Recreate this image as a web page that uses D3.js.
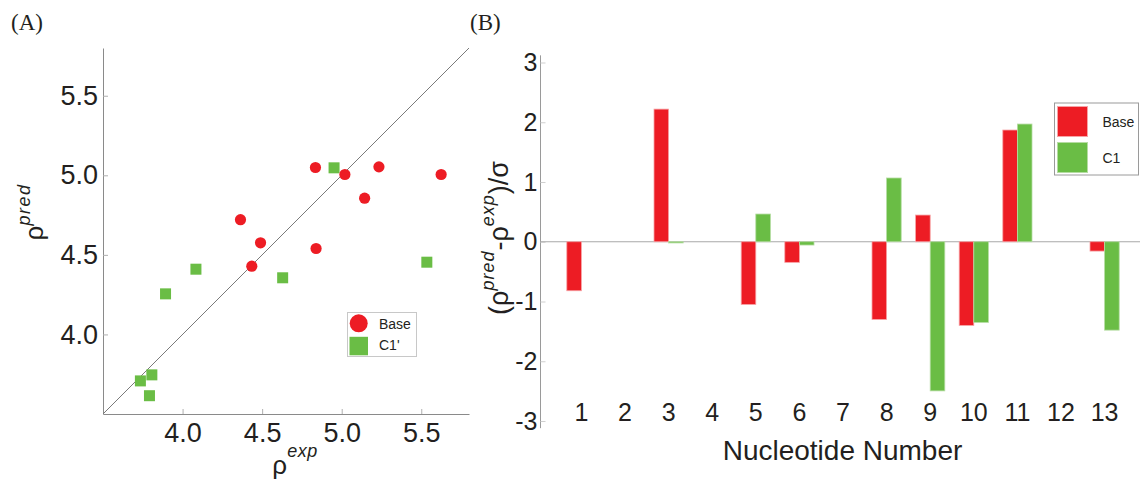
<!DOCTYPE html>
<html><head><meta charset="utf-8">
<script src="https://cdn.jsdelivr.net/npm/d3@7"></script>
<style>
body{margin:0;background:#fff}
svg{display:block}
text{font-family:"Liberation Sans",Arial,Helvetica,sans-serif;fill:#231f20}
</style>
</head><body>
<svg id="fig" width="1142" height="481"></svg>
<script>
// (A) predicted vs experimental values
const baseExp  = [4.835, 5.020, 5.234, 5.625, 5.144, 4.364, 4.490, 4.435, 4.839];
const basePred = [5.049, 5.005, 5.053, 5.005, 4.856, 4.721, 4.576, 4.429, 4.540];
const c1Exp    = [4.952, 5.535, 4.084, 4.629, 3.893, 3.735, 3.807, 3.792];
const c1Pred   = [5.047, 4.454, 4.410, 4.356, 4.255, 3.708, 3.746, 3.615];
const scatterTicks = [4.0, 4.5, 5.0, 5.5];

// (B) normalised deviation per nucleotide (null = no bar)
const nucleotides = [1, 2, 3, 4, 5, 6, 7, 8, 9, 10, 11, 12, 13];
const baseDev = [-0.82, null, 2.22, null, -1.05, -0.345, null, -1.30, 0.447, -1.40, 1.87, null, -0.156];
const c1Dev   = [null, null, -0.02, null, 0.464, -0.055, null, 1.067, -2.496, -1.35, 1.97, null, -1.479];
const devTicks = [-3, -2, -1, 0, 1, 2, 3];

const RED = "#ed1c24", GREEN = "#6abd45";
const RED_EDGE = "#f7a3a6", GREEN_EDGE = "#b5dca2";
const INK = "#231f20";

const svg = d3.select("#fig");

// ---------- Panel A ----------
const xA = d3.scaleLinear().domain([3.5, 5.8]).range([103, 469]);
const yA = d3.scaleLinear().domain([3.5, 5.8]).range([414, 48]);

svg.append("text").attr("x", 11).attr("y", 30)
  .style("font-family", "'Liberation Serif','Times New Roman',serif")
  .style("font-size", "23px").text("(A)");

const axA_y = svg.append("g").attr("transform", `translate(${xA.range()[0]},0)`)
  .call(d3.axisLeft(yA).tickValues(scatterTicks).tickFormat(d3.format(".1f"))
    .tickSizeInner(-5).tickSizeOuter(0).tickPadding(5));
const axA_x = svg.append("g").attr("transform", `translate(0,${yA.range()[0]})`)
  .call(d3.axisBottom(xA).tickValues(scatterTicks).tickFormat(d3.format(".1f"))
    .tickSizeInner(-5).tickSizeOuter(0).tickPadding(9));
[axA_y, axA_x].forEach(g => {
  g.select(".domain").attr("stroke", "#8a8a8a");
  g.selectAll(".tick line").attr("stroke", "#b0b0b0");
  g.selectAll(".tick text").style("font-size", "27px").attr("fill", INK)
    .style("font-family", "'Liberation Sans',Arial,sans-serif");
});

// identity line
svg.append("line")
  .attr("x1", xA(3.5)).attr("y1", yA(3.5)).attr("x2", xA(5.8)).attr("y2", yA(5.8))
  .attr("stroke", "#7a7a7a").attr("stroke-width", 1);

// C1' squares
const sq = 11;
svg.append("g").selectAll("rect").data(c1Exp.map((e, i) => [e, c1Pred[i]])).join("rect")
  .attr("x", d => xA(d[0]) - sq / 2).attr("y", d => yA(d[1]) - sq / 2)
  .attr("width", sq).attr("height", sq).attr("fill", GREEN);

// base circles
svg.append("g").selectAll("circle").data(baseExp.map((e, i) => [e, basePred[i]])).join("circle")
  .attr("cx", d => xA(d[0])).attr("cy", d => yA(d[1])).attr("r", 5.6).attr("fill", RED);

// axis titles
const tA = svg.append("text").attr("x", 295).attr("y", 474).attr("text-anchor", "middle");
tA.append("tspan").style("font-size", "26px").text("ρ");
tA.append("tspan").attr("dy", -17).style("font-size", "18px").style("font-style", "italic")
  .style("letter-spacing", "0.5px").text("exp");

const tAy = svg.append("text").attr("transform", "translate(43,212) rotate(-90)").attr("text-anchor", "middle");
tAy.append("tspan").style("font-size", "26px").text("ρ");
tAy.append("tspan").attr("dy", -13).style("font-size", "18px").style("font-style", "italic")
  .style("letter-spacing", "1.5px").text("pred");

// legend A
const lgA = svg.append("g");
lgA.append("rect").attr("x", 347.5).attr("y", 312.5).attr("width", 69).attr("height", 44)
  .attr("fill", "#fff").attr("stroke", "#c8c8c8");
lgA.append("circle").attr("cx", 358.7).attr("cy", 323.3).attr("r", 9).attr("fill", RED);
lgA.append("rect").attr("x", 349.5).attr("y", 336.8).attr("width", 18.5).attr("height", 18.5).attr("fill", GREEN);
lgA.append("text").attr("x", 379).attr("y", 328.5).style("font-size", "14px").text("Base");
lgA.append("text").attr("x", 379).attr("y", 350).style("font-size", "14px").text("C1'");

// ---------- Panel B ----------
const xB = d3.scaleBand().domain(nucleotides).range([559.6, 1126.4]).padding(0);
const yB = d3.scaleLinear().domain([-3, 3]).range([421, 62.5]);
const barW = 14.6;

svg.append("text").attr("x", 470).attr("y", 30)
  .style("font-family", "'Liberation Serif','Times New Roman',serif")
  .style("font-size", "23px").text("(B)");

// y axis
svg.append("line").attr("x1", 540.5).attr("x2", 540.5)
  .attr("y1", yB(3.12)).attr("y2", yB(-3.12)).attr("stroke", "#9a9a9a");
const axB_y = svg.append("g").attr("transform", "translate(540.5,0)")
  .call(d3.axisLeft(yB).tickValues(devTicks).tickFormat(d3.format("d"))
    .tickSizeInner(-5).tickSizeOuter(0).tickPadding(3));
axB_y.select(".domain").remove();
axB_y.selectAll(".tick line").attr("stroke", "#cfcfcf");
axB_y.selectAll(".tick text").style("font-size", "25px").attr("fill", INK)
  .style("font-family", "'Liberation Sans',Arial,sans-serif")
  .text(d => d < 0 ? "-" + Math.abs(d) : String(d));

// zero line
svg.append("line").attr("x1", 540.5).attr("x2", 1140).attr("y1", yB(0)).attr("y2", yB(0))
  .attr("stroke", "#a8a8a8");

// bars
function barRect(v) { return { y: Math.min(yB(v), yB(0)), h: Math.abs(yB(v) - yB(0)) }; }
const center = n => xB(n) + xB.bandwidth() / 2;
svg.append("g").selectAll("rect")
  .data(nucleotides.map((n, i) => ({ n, v: baseDev[i] })).filter(d => d.v !== null)).join("rect")
  .attr("x", d => center(d.n) - barW).attr("width", barW)
  .attr("y", d => barRect(d.v).y).attr("height", d => barRect(d.v).h)
  .attr("fill", RED).attr("stroke", RED_EDGE).attr("stroke-width", 0.8);
svg.append("g").selectAll("rect")
  .data(nucleotides.map((n, i) => ({ n, v: c1Dev[i] })).filter(d => d.v !== null)).join("rect")
  .attr("x", d => center(d.n)).attr("width", barW)
  .attr("y", d => barRect(d.v).y).attr("height", d => barRect(d.v).h)
  .attr("fill", GREEN).attr("stroke", GREEN_EDGE).attr("stroke-width", 0.8);

// category labels
const axB_x = svg.append("g").attr("transform", "translate(0,403)")
  .call(d3.axisBottom(xB).tickSize(0).tickPadding(0));
axB_x.select(".domain").remove();
axB_x.selectAll(".tick text").style("font-size", "25px").attr("fill", INK)
  .style("font-family", "'Liberation Sans',Arial,sans-serif");

// axis titles
svg.append("text").attr("x", 842.5).attr("y", 460).attr("text-anchor", "middle")
  .style("font-size", "28px").text("Nucleotide Number");

const tBy = svg.append("text").attr("transform", "translate(508,238) rotate(-90)").attr("text-anchor", "middle")
  .style("font-size", "27px");
tBy.append("tspan").text("(ρ");
tBy.append("tspan").attr("dy", -14).style("font-size", "18px").style("font-style", "italic")
  .style("letter-spacing", "1px").text("pred");
tBy.append("tspan").attr("dy", 14).text("-ρ");
tBy.append("tspan").attr("dy", -14).style("font-size", "18px").style("font-style", "italic")
  .style("letter-spacing", "1px").text("exp");
tBy.append("tspan").attr("dy", 14).text(")/σ");

// legend B
const lgB = svg.append("g");
lgB.append("rect").attr("x", 1054.5).attr("y", 103).attr("width", 84).attr("height", 72)
  .attr("fill", "#fff").attr("stroke", "#9a9a9a");
lgB.append("rect").attr("x", 1057.5).attr("y", 106.5).attr("width", 30).attr("height", 30)
  .attr("fill", RED).attr("stroke", RED_EDGE);
lgB.append("rect").attr("x", 1057.5).attr("y", 142.5).attr("width", 30).attr("height", 30)
  .attr("fill", GREEN).attr("stroke", GREEN_EDGE);
lgB.append("text").attr("x", 1102.5).attr("y", 126.5).style("font-size", "14px").text("Base");
lgB.append("text").attr("x", 1102.5).attr("y", 163).style("font-size", "14px").text("C1");
</script>
</body></html>
